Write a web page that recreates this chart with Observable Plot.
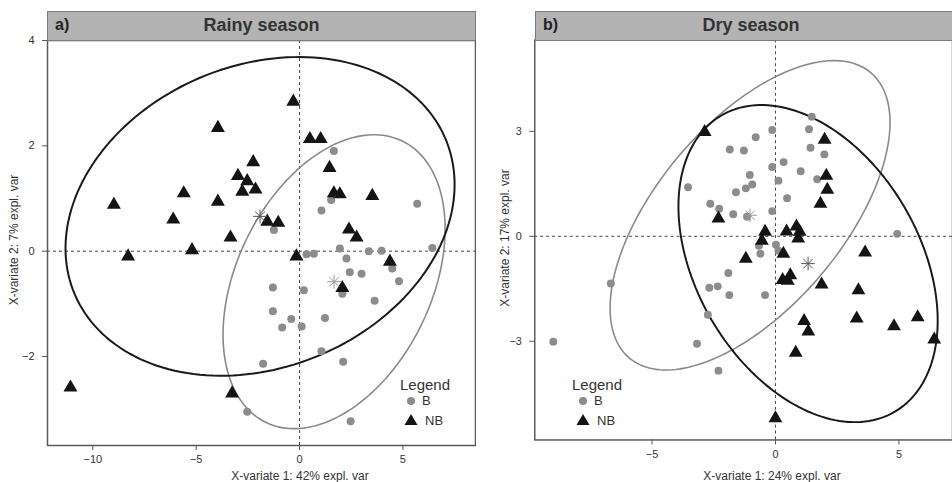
<!DOCTYPE html>
<html>
<head>
<meta charset="utf-8">
<script src="https://cdn.jsdelivr.net/npm/d3@7"></script>
<script src="https://cdn.jsdelivr.net/npm/@observablehq/plot@0.6"></script>
<style>
  html, body { margin: 0; padding: 0; background: #fff; }
  #wrap { position: relative; width: 952px; height: 482px; overflow: hidden; font-family: "Liberation Sans", Arial, sans-serif; color: #333; }
  .panel { position: absolute; top: 0; height: 482px; overflow: hidden; }
  .hdr { position: absolute; top: 11px; height: 28px; background: #b3b3b3; border: 1px solid #7c7c7c; box-sizing: content-box; }
  .hdr .tag { position: absolute; left: 7px; top: 4px; font-weight: bold; font-size: 16px; color: #222; }
  .hdr .ttl { position: absolute; left: 0; right: 0; top: 3px; text-align: center; font-weight: bold; font-size: 18px; color: #333; }
  .xt { position: absolute; font-size: 12px; color: #333; transform: translate(-50%, -50%); white-space: nowrap; }
  .yt { position: absolute; font-size: 12px; color: #333; transform: translate(-50%, -50%) rotate(-90deg); white-space: nowrap; }
  .leg { position: absolute; }
  .leg .lt { position: absolute; font-size: 15px; color: #333; white-space: nowrap; }
  .leg .li { position: absolute; font-size: 13px; color: #333; white-space: nowrap; }
</style>
</head>
<body>
<div id="wrap">
  <div class="panel" id="pa" style="left:0;width:476px"></div>
  <div class="panel" id="pb" style="left:476px;width:476px"></div>
</div>
<script>
// ---------- Data ----------
const groups = ["B", "NB"];
const panelTitles = ["Rainy season", "Dry season"];
const panelTags = ["a)", "b)"];
const xTitles = ["X-variate 1: 42% expl. var", "X-variate 1: 24% expl. var"];
const yTitles = ["X-variate 2: 7% expl. var", "X-variate 2: 17% expl. var"];

const rainyXTicks = [-10, -5, 0, 5];
const rainyYTicks = [-2, 0, 2, 4];
const dryXTicks = [-5, 0, 5];
const dryYTicks = [-3, 0, 3];

// Rainy season, group B (circles)
const rainyB = [
  [1.66,1.90],[1.53,0.97],[1.06,0.77],[5.69,0.90],[-1.24,0.40],
  [0.34,-0.06],[0.69,-0.05],[1.95,0.05],[2.27,-0.14],[3.35,0.00],
  [3.97,0.01],[6.42,0.06],[2.43,-0.40],[3.00,-0.43],[4.48,-0.33],
  [4.81,-0.57],[2.07,-0.81],[-1.29,-0.69],[0.21,-0.74],[3.63,-0.94],
  [-1.29,-1.14],[-0.40,-1.29],[-0.84,-1.45],[0.10,-1.43],[1.23,-1.27],
  [1.06,-1.90],[2.11,-2.10],[-1.76,-2.14],[-2.53,-3.05],[2.47,-3.23]
];
// Rainy season, group NB (triangles)
const rainyNB = [
  [-0.30,2.84],[-3.95,2.34],[0.50,2.13],[1.02,2.13],[-2.24,1.69],
  [-2.98,1.43],[-2.53,1.33],[-2.77,1.13],[-2.13,1.17],[1.45,1.58],
  [1.66,1.10],[1.95,1.08],[3.52,1.05],[-5.60,1.10],[-8.98,0.88],
  [-3.95,0.94],[-6.11,0.60],[-1.56,0.56],[-1.03,0.54],[2.39,0.41],
  [2.76,0.26],[-3.34,0.26],[-5.20,0.02],[-8.29,-0.10],[-0.15,-0.10],
  [4.37,-0.20],[2.07,-0.70],[-11.08,-2.59],[-3.26,-2.70]
];
// Dry season, group B
const dryB = [
  [1.47,3.42],[-0.13,3.04],[1.36,3.06],[-0.80,2.83],[-1.85,2.48],
  [-1.28,2.45],[1.42,2.53],[1.98,2.34],[0.33,2.12],[-0.13,1.98],
  [1.02,1.86],[-1.04,1.75],[1.69,1.63],[0.12,1.59],[-0.94,1.48],
  [-1.20,1.37],[-1.60,1.26],[-3.54,1.40],[0.47,1.09],[-2.64,0.93],
  [-2.28,0.79],[-1.71,0.63],[-1.15,0.56],[-0.13,0.72],[4.93,0.07],
  [-0.67,-0.27],[0.02,-0.24],[0.12,-0.41],[-0.61,-0.50],[-1.91,-1.05],
  [-6.67,-1.35],[-2.68,-1.47],[-2.34,-1.43],[-1.87,-1.68],[-0.42,-1.68],
  [-2.74,-2.24],[-9.00,-3.01],[-3.18,-3.07],[-2.31,-3.84]
];
// Dry season, group NB
const dryNB = [
  [-2.87,2.98],[1.99,2.76],[2.06,1.73],[2.10,1.33],[1.82,0.93],
  [-2.31,0.51],[-0.42,0.13],[-0.55,-0.13],[0.45,0.14],[0.85,0.28],
  [0.98,0.13],[0.92,-0.06],[0.32,-0.50],[-1.20,-0.64],[3.63,-0.46],
  [0.60,-1.11],[0.29,-1.25],[0.50,-1.27],[1.87,-1.38],[3.36,-1.54],
  [3.29,-2.35],[1.16,-2.42],[1.33,-2.72],[4.80,-2.57],[5.76,-2.31],
  [6.43,-2.95],[0.82,-3.33],[0.00,-5.20]
];

// Group centroids (stars) [B, NB]
const rainyCentroids = [[1.67,-0.58],[-1.91,0.66]];
const dryCentroids = [[-1.03,0.60],[1.32,-0.78]];
// Group spread for the 95% confidence ellipses: [sdX, sdY, correlation] for [B, NB]
const rainySpread = [[2.194,1.140,0.36],[3.844,1.236,0.20]];
const drySpread = [[2.316,1.806,0.60],[2.145,1.851,-0.36]];
const ellipseLevel = 0.95;

// ---------- Helpers ----------
function toRows(arr, group) { return arr.map(([x, y]) => ({x, y, group})); }
function ellipseRows(centroids, spread) {
  const k = Math.sqrt(-2 * Math.log(1 - ellipseLevel)); // sqrt(chi2_2(level))
  const rows = [];
  groups.forEach((g, i) => {
    const [cx, cy] = centroids[i];
    const [sx, sy, r] = spread[i];
    const n = 180;
    for (let j = 0; j <= n; j++) {
      const t = 2 * Math.PI * j / n;
      rows.push({group: g,
        x: cx + k * sx * Math.cos(t),
        y: cy + k * sy * (r * Math.cos(t) + Math.sqrt(1 - r * r) * Math.sin(t))});
    }
  });
  return rows;
}

const colB = "#8c8c8c", colNB = "#141414";

function panel(opts) {
  const cents = groups.map((g, i) => ({x: opts.cent[i][0], y: opts.cent[i][1], group: g}));
  return Plot.plot({
    width: opts.width, height: 482,
    marginLeft: opts.marginLeft, marginRight: opts.marginRight, marginTop: 40, marginBottom: 37,
    x: {domain: opts.xDomain},
    y: {domain: opts.yDomain},
    style: {fontFamily: "'Liberation Sans', Arial, sans-serif", fontSize: "11px", color: "#333", background: "transparent"},
    marks: [
      Plot.ruleX([0], {stroke: "#444", strokeWidth: 1, strokeDasharray: "3,3"}),
      Plot.ruleY([0], {stroke: "#444", strokeWidth: 1, strokeDasharray: "3,3"}),
      Plot.line(ellipseRows(opts.cent, opts.spread), {x: "x", y: "y", z: "group", clip: true,
        stroke: d => d.group === "B" ? "#8a8a8a" : "#1a1a1a",
        strokeWidth: d => d.group === "B" ? 1.6 : 2}),
      Plot.dot(toRows(opts.B, "B"), {x: "x", y: "y", symbol: "circle", r: 4, fill: colB, stroke: "none"}),
      Plot.dot(toRows(opts.NB, "NB"), {x: "x", y: "y", symbol: "triangle", r: 5.2, fill: colNB, stroke: "none"}),
      Plot.dot(cents, {x: "x", y: "y", symbol: "plus", r: 4.5, fill: "none", strokeWidth: 1,
        stroke: d => d.group === "B" ? "#999" : "#555"}),
      Plot.dot(cents, {x: "x", y: "y", symbol: "times", r: 4.5, fill: "none", strokeWidth: 1,
        stroke: d => d.group === "B" ? "#999" : "#555"}),
      Plot.axisX({ticks: opts.xTicks, tickSize: 5, tickPadding: 5, label: null, stroke: "#555"}),
      Plot.axisY({ticks: opts.yTicks, tickSize: 5, tickPadding: 8, label: null, stroke: "#555"}),
      Plot.frame({stroke: "#5a5a5a", strokeWidth: 1.5})
    ]
  });
}

function addOverlay(container, o) {
  const hdr = document.createElement("div");
  hdr.className = "hdr";
  hdr.style.left = o.hdrLeft + "px";
  hdr.style.width = o.hdrWidth + "px";
  hdr.innerHTML = `<span class="tag">${o.tag}</span><div class="ttl">${o.title}</div>`;
  container.appendChild(hdr);

  const xt = document.createElement("div");
  xt.className = "xt"; xt.textContent = o.xTitle;
  xt.style.left = o.xtX + "px"; xt.style.top = "476px";
  container.appendChild(xt);

  const yt = document.createElement("div");
  yt.className = "yt"; yt.textContent = o.yTitle;
  yt.style.left = o.ytX + "px"; yt.style.top = o.ytY + "px";
  container.appendChild(yt);

  const leg = document.createElement("div");
  leg.className = "leg";
  leg.style.left = o.legX + "px"; leg.style.top = o.legY + "px";
  leg.innerHTML = `
    <div class="lt" style="left:0;top:0">Legend</div>
    <svg style="position:absolute;left:0;top:16px" width="24" height="44">
      <circle cx="11" cy="9" r="4" fill="${colB}"></circle>
      <path d="M11,22 L17.5,33 L4.5,33 Z" fill="${colNB}"></path>
    </svg>
    <div class="li" style="left:22px;top:17px">${groups[0]}</div>
    <div class="li" style="left:25px;top:37px">${groups[1]}</div>`;
  container.appendChild(leg);
}

const pa = document.getElementById("pa");
pa.appendChild(panel({
  width: 476, marginLeft: 47, marginRight: 1,
  xDomain: [-12.19, 8.51], yDomain: [-3.69, 4.0],
  xTicks: rainyXTicks, yTicks: rainyYTicks,
  B: rainyB, NB: rainyNB, cent: rainyCentroids, spread: rainySpread
}));
addOverlay(pa, {hdrLeft: 47, hdrWidth: 427, tag: panelTags[0], title: panelTitles[0],
  xTitle: xTitles[0], xtX: 300, yTitle: yTitles[0], ytX: 14, ytY: 240, legX: 400, legY: 376});

const pb = document.getElementById("pb");
pb.appendChild(panel({
  width: 482, marginLeft: 59, marginRight: 0,
  xDomain: [-9.75, 7.17], yDomain: [-5.82, 5.61],
  xTicks: dryXTicks, yTicks: dryYTicks,
  B: dryB, NB: dryNB, cent: dryCentroids, spread: drySpread
}));
addOverlay(pb, {hdrLeft: 59, hdrWidth: 430, tag: panelTags[1], title: panelTitles[1],
  xTitle: xTitles[1], xtX: 296, yTitle: yTitles[1], ytX: 29, ytY: 238, legX: 96, legY: 376});
</script>
</body>
</html>
